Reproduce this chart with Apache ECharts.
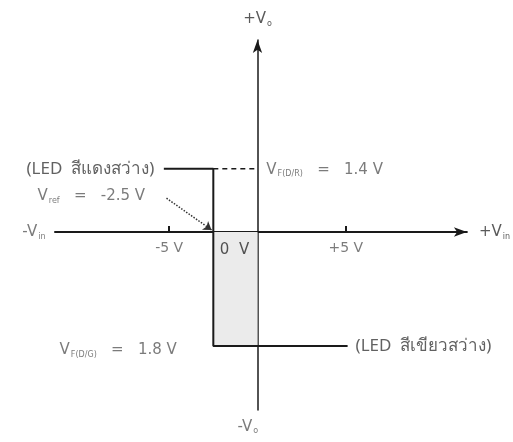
<!DOCTYPE html>
<html>
<head>
<meta charset="utf-8">
<title>Comparator with LEDs</title>
<script src="https://cdn.jsdelivr.net/npm/echarts@6/dist/echarts.min.js"></script>
<style>
  html, body { margin: 0; padding: 0; background: #fff; }
  #main { width: 513px; height: 442px; }
</style>
</head>
<body>
<div id="main"></div>
<script>
// input axis ticks (volts)
var xTicks = [-5, 5];
var xTickLabels = ['-5 V', '+5 V'];
// reference voltage where the output switches
var vRef = -2.5;
// output levels as drawn (diagram is not to scale vertically)
var outHigh = 3.55;
var outLow = -6.4;
// horizontal extent of the output lines
var outStart = -5.3;
var outEnd = 5.1;
// values written on the diagram
var highText = '1.4 V';
var lowText = '1.8 V';
var refText = '-2.5 V';

var ink = '#1a1a1a';
var grey = '#5a5a5a';
var font = 'DejaVu Sans';

var rich = {
    b: { fontSize: 15, color: grey, fontFamily: font },
    s: { fontSize: 8, color: grey, fontFamily: font, padding: [9, 0, 0, 1] },
    k: { fontSize: 14, color: grey, fontFamily: font },
    d: { fontSize: 15, color: '#2a2a2a', fontFamily: font },
    t: { fontSize: 17, color: '#3a3a3a', fontFamily: 'Noto Sans, DejaVu Sans' }
};

function note(x, y, fmt, align) {
    return {
        value: [x, y],
        label: { show: true, formatter: fmt, align: align || 'left', verticalAlign: 'middle', rich: rich }
    };
}

var notes = [
    note(-5.84, outHigh, '{t|(LED  สีแดงสว่าง)}', 'right'),
    note(-12.45, 2.0, '{b|V}{s|ref}{b|   =   ' + refText + '}'),
    note(0.5, outHigh - 0.05, '{b|V}{s|F(D/R)}{b|   =   ' + highText + '}'),
    note(-11.2, outLow - 0.25, '{b|V}{s|F(D/G)}{b|   =   ' + lowText + '}'),
    note(5.55, outLow, '{t|(LED  สีเขียวสว่าง)}'),
    note(-1.3, -1.0, '{d|0  V}', 'center'),
    note(-12.0, 0, '{b|-V}{s|in}', 'right'),
    note(-0.55, -10.95, '{b|-V}{s|o}', 'center')
];
xTicks.forEach(function (v, i) {
    notes.push(note(v, -0.9, '{k|' + xTickLabels[i] + '}', 'center'));
});

var chart = echarts.init(document.getElementById('main'));
chart.setOption({
    animation: false,
    backgroundColor: '#fff',
    grid: { left: 55, right: 43, top: 40, bottom: 32 },
    xAxis: {
        type: 'value',
        min: -11.46,
        max: 11.85,
        splitLine: { show: false },
        axisLine: {
            onZero: true,
            symbol: ['none', 'arrow'],
            symbolSize: [7, 13],
            lineStyle: { color: ink, width: 2 }
        },
        axisTick: {
            customValues: xTicks,
            inside: true,
            length: 6,
            lineStyle: { color: ink, width: 2 }
        },
        axisLabel: { show: false },
        name: '{b|+V}{s|in}',
        nameLocation: 'end',
        nameGap: 12,
        nameTextStyle: { rich: rich, verticalAlign: 'middle' }
    },
    yAxis: {
        type: 'value',
        min: -10,
        max: 10.79,
        splitLine: { show: false },
        axisTick: { show: false },
        axisLabel: { show: false },
        axisLine: {
            onZero: true,
            symbol: ['none', 'arrow'],
            symbolSize: [7, 13],
            lineStyle: { color: ink, width: 1.5 }
        },
        name: '{b|+V}{s|o}',
        nameLocation: 'end',
        nameGap: 12,
        nameTextStyle: { rich: rich }
    },
    series: [
        {
            // transfer characteristic
            type: 'line',
            data: [[outStart, outHigh], [vRef, outHigh], [vRef, outLow], [outEnd, outLow]],
            showSymbol: false,
            lineStyle: { color: ink, width: 2 },
            z: 4,
            markArea: {
                silent: true,
                itemStyle: { color: '#ebebeb' },
                data: [[{ coord: [vRef, 0] }, { coord: [0, outLow] }]]
            }
        },
        {
            type: 'line',
            data: [[vRef, outHigh], [0, outHigh]],
            showSymbol: false,
            lineStyle: { color: ink, width: 1.5, type: [5, 4] }
        },
        {
            // pointer to Vref
            type: 'lines',
            coordinateSystem: 'cartesian2d',
            symbol: ['none', 'arrow'],
            symbolSize: 8,
            lineStyle: { color: '#333', width: 1.5, type: 'dotted', opacity: 1 },
            data: [{ coords: [[-5.15, 1.9], [vRef - 0.1, 0.12]] }]
        },
        {
            type: 'scatter',
            symbolSize: 0,
            clip: false,
            silent: true,
            data: notes
        }
    ]
});
</script>
</body>
</html>
